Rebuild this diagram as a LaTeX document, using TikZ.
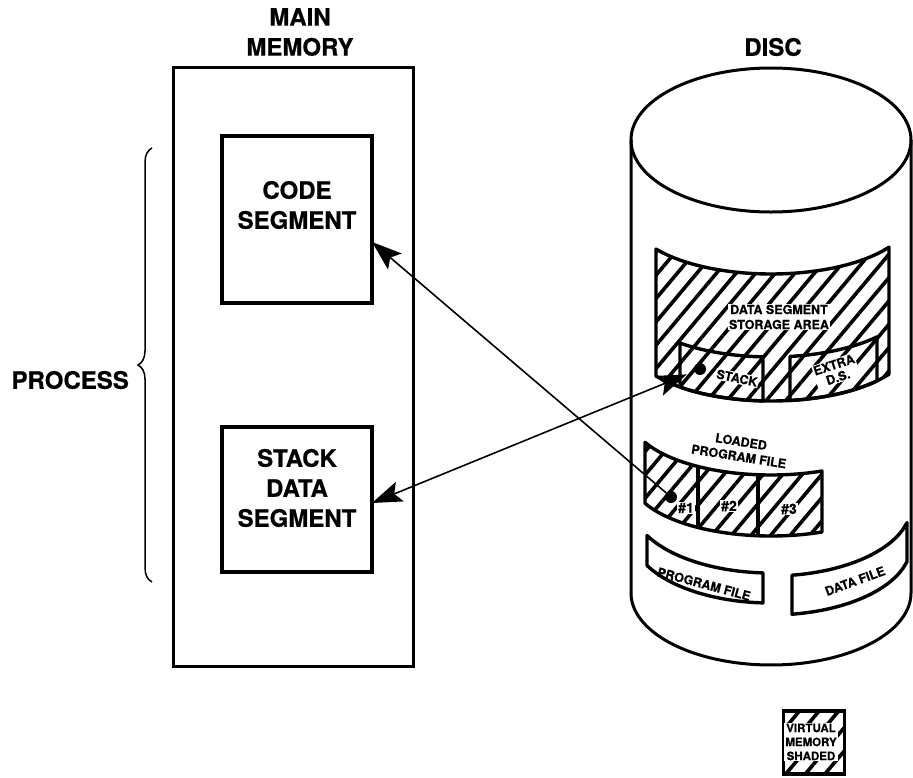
\documentclass[tikz,border=0pt]{standalone}
\usepackage{fontspec}
\setmainfont[BoldFeatures={FakeBold=0.6}]{TeX Gyre Heros}
\usetikzlibrary{arrows.meta,patterns.meta,decorations.pathreplacing}
\pgfmathdeclarefunction{ex}{1}{\pgfmathparse{sqrt(max(0,1-((#1-771)/140)^2))}}
\begin{document}
\begin{tikzpicture}[x=1pt,y=-1pt,
  big/.style={font=\fontsize{24}{30}\selectfont\bfseries, align=center, inner sep=0pt},
  small/.style={font=\fontsize{12.5}{15}\selectfont\bfseries, align=center, inner sep=1pt},
  hatch/.style={pattern={Lines[angle=50,distance=15pt,line width=3.6pt]}},
  outline/.style={line width=3.4pt, line join=round},
  cyl/.style={line width=3pt},
  segbox/.style={draw, line width=3.2pt, inner sep=0pt, outer sep=0pt},
  dot/.style={circle, fill=black, minimum size=12pt, inner sep=0pt},
  arr/.style={line width=1.6pt},
  head/.tip={Stealth[length=30pt,width=21pt,inset=6pt]}]
\useasboundingbox (0,0) rectangle (913,777);

% titles
\node[big] (memtitle) at (300,32) {MAIN\\MEMORY};
\node[big] (disctitle) at (773,47) {DISC};
\node[big, anchor=east] (proc) at (129,380) {PROCESS};
\draw[decorate, decoration={brace, amplitude=14pt}, line width=1.5pt] (152,582) -- (152,148);

% main memory
\node[draw, line width=3pt, minimum width=240pt, minimum height=599pt, inner sep=0pt, outer sep=0pt] (mem) at (293,366.5) {};
\node[segbox, minimum width=150pt, minimum height=167pt] (code) at (297,219.5) {};
\node[big] (codetxt) at (297,205) {CODE\\SEGMENT};
\node[segbox, minimum width=150pt, minimum height=145pt] (stack) at (297,499.5) {};
\node[big] (stacktxt) at (297,488) {STACK\\DATA\\SEGMENT};

% disc cylinder
\draw[cyl] (771,140) ellipse [x radius=140pt, y radius=72pt];
\draw[cyl] (631,140) -- (631,593) -- plot[domain=180:0, samples=80, variable=\t] ({771+140*cos(\t)},{593+72*sin(\t)}) -- (911,140);

% data segment storage area
\draw[outline, hatch] plot[domain=656:889, samples=40] (\x,{216+58*ex(\x)}) -- plot[domain=889:656, samples=40] (\x,{343+58*ex(\x)}) -- cycle;
\draw[outline] plot[domain=680:763, samples=20] (\x,{299+58*ex(\x)}) -- plot[domain=763:680, samples=20] (\x,{343+58*ex(\x)}) -- cycle;
\draw[outline] plot[domain=790:877, samples=20] (\x,{299+58*ex(\x)}) -- plot[domain=877:790, samples=20] (\x,{343+58*ex(\x)}) -- cycle;
\node[small, fill=white] (dsa) at (779,317) {DATA SEGMENT\\STORAGE AREA};
\node[small, fill=white, rotate=-12] (stk) at (737,378) {STACK};
\node[small, fill=white, rotate=18, font=\fontsize{12.5}{13}\selectfont\bfseries] (xds) at (836,371) {EXTRA\\D.S.};

% loaded program file
\node[small, rotate=-9] (lpf) at (740,449) {LOADED\\PROGRAM FILE};
\draw[outline, hatch] plot[domain=645:822, samples=40] (\x,{417+58*ex(\x)}) -- plot[domain=822:645, samples=40] (\x,{478+58*ex(\x)}) -- cycle;
\draw[outline] (698,{417+58*ex(698)}) -- (698,{478+58*ex(698)});
\draw[outline] (758,{417+58*ex(758)}) -- (758,{478+58*ex(758)});
\node[small, fill=white, font=\fontsize{14}{15}\selectfont\bfseries] (n1) at (686,508) {\#1};
\node[small, fill=white, font=\fontsize{14}{15}\selectfont\bfseries] (n2) at (729,506) {\#2};
\node[small, fill=white, font=\fontsize{14}{15}\selectfont\bfseries] (n3) at (789,509) {\#3};

% program file and data file
\draw[outline] plot[domain=647:763, samples=30] (\x,{503+70*ex(\x)}) -- plot[domain=763:647, samples=30] (\x,{533+70*ex(\x)}) -- cycle;
\draw[outline] plot[domain=792:907, samples=30] (\x,{506+70*ex(\x)}) -- plot[domain=907:792, samples=30] (\x,{545+70*ex(\x)}) -- cycle;
\node[small, rotate=-15] (pf) at (704,584) {PROGRAM FILE};
\node[small, rotate=20] (df) at (855,581) {DATA FILE};

% dots and arrows
\node[dot] (d1) at (671,497) {};
\node[dot] (d2) at (700,369) {};
\coordinate (codein) at ([yshift=-22.5pt]code.east);
\coordinate (stackin) at ([yshift=-3.5pt]stack.east);
\draw[arr, -head] (d1.center) -- (codein);
\draw[arr, head-head, shorten >=8pt] (stackin) -- (d2);

% legend
\node[draw, line width=3.2pt, hatch, minimum width=61pt, minimum height=63pt, inner sep=0pt] (legend) at (814,742.5) {};
\node[font=\fontsize{11.5}{14}\selectfont\bfseries, fill=white, inner sep=1pt, align=center] (legtxt) at (811,742) {VIRTUAL\\MEMORY\\SHADED};
\end{tikzpicture}
\end{document}
